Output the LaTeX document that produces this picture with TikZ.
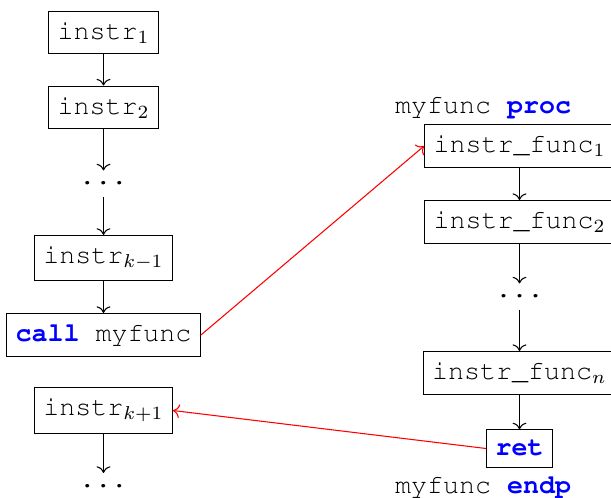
\documentclass[tikz,border=0pt]{standalone}
\usepackage[T1]{fontenc}
\renewcommand\ttdefault{pcr}
\usetikzlibrary{arrows.meta}
\begin{document}
\begin{tikzpicture}[x=0.375pt,y=-0.375pt,
  font=\ttfamily\fontsize{10}{12}\selectfont,
  instr/.style={draw,line width=0.4pt,inner xsep=3.33pt,inner ysep=4.1pt},
  plain/.style={inner sep=1pt},
  gap/.style={inner sep=0pt,minimum height=9.4pt},
  flow/.style={->,line width=0.4pt},
  jump/.style={->,red,line width=0.4pt}]
\useasboundingbox (0,0) rectangle (611,497);
\newcommand\kw[1]{\textcolor{blue}{\bfseries #1}}
% caller
\node[instr] (a1) at (103.5,32.5) {instr$_1$};
\node[instr] (a2) at (103.5,107.5) {instr$_2$};
\node[gap] (ad) at (103.5,183.5) {...};
\node[instr] (ak) at (103.5,258) {instr$_{k-1}$};
\node[instr] (call) at (103.5,335) {\kw{call} myfunc};
\node[instr] (an) at (103.5,410.5) {instr$_{k+1}$};
\node[gap] (ae) at (103.5,486) {...};
% callee
\node[plain,anchor=west] (proc) at (392,107) {myfunc \kw{proc}};
\node[instr] (f1) at (519.5,146) {instr\_func$_1$};
\node[instr] (f2) at (519.5,222) {instr\_func$_2$};
\node[gap] (fd) at (519.5,296.5) {...};
\node[instr] (fn) at (519.5,373) {instr\_func$_n$};
\node[instr] (ret) at (519.5,448.5) {\kw{ret}};
\node[plain,anchor=west] (endp) at (392,487) {myfunc \kw{endp}};
% control flow
\draw[flow] (a1) -- (a2);
\draw[flow] (a2) -- (ad);
\draw[flow] (ad) -- (ak);
\draw[flow] (ak) -- (call);
\draw[flow] (an) -- (ae);
\draw[flow] (f1) -- (f2);
\draw[flow] (f2) -- (fd);
\draw[flow] (fd) -- (fn);
\draw[flow] (fn) -- (ret);
\draw[jump] (call.east) -- (f1.west);
\draw[jump] (ret.west) -- (an.east);
\end{tikzpicture}
\end{document}
